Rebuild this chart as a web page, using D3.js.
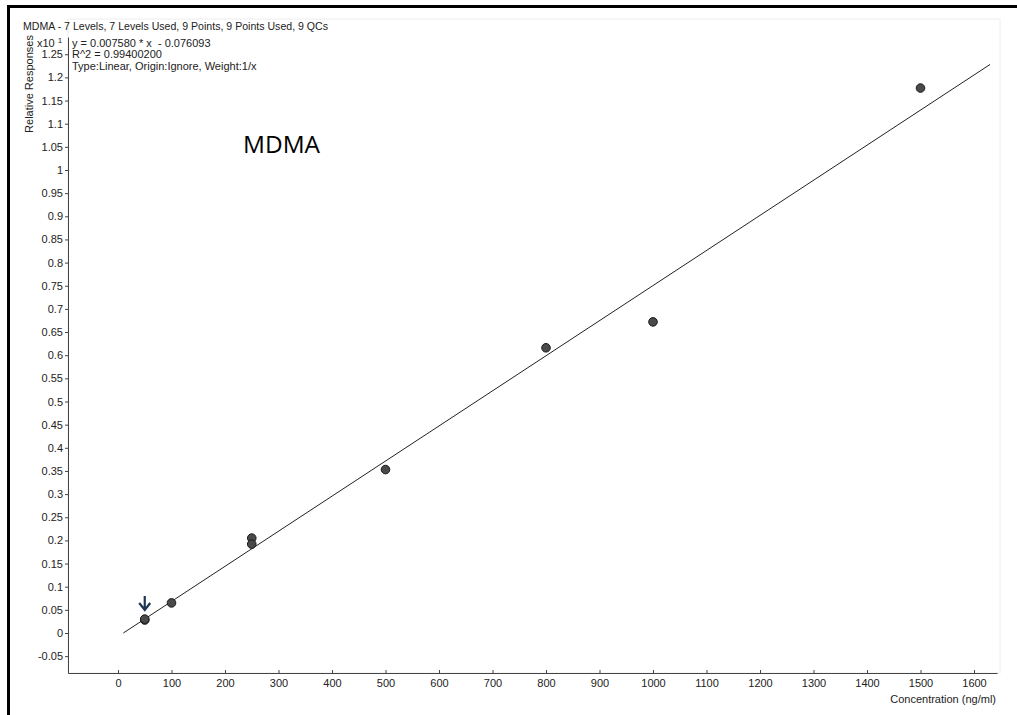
<!DOCTYPE html>
<html>
<head>
<meta charset="utf-8">
<script src="https://cdn.jsdelivr.net/npm/d3@7"></script>
<style>
  body { margin: 0; background: #fff; }
  svg { display: block; font-family: "Liberation Sans", Arial, sans-serif; }
  .axis text { font-size: 11px; fill: #222; }
  .axis path, .axis line { stroke: #444; }
</style>
</head>
<body>
<div id="chart"></div>
<script>
// calibration points (concentration ng/ml, relative response x10)
var concentrations = [50, 50, 100, 250, 250, 500, 800, 1000, 1500];
var responses = [0.028, 0.030, 0.065, 0.205, 0.192, 0.353, 0.616, 0.672, 1.177];

// fitted line y = 0.007580 * x - 0.076093 (shown in units of x10)
var fitSlope = 0.000758, fitIntercept = -0.0076093;
var fitRange = [10, 1630];

var xTicks = [0, 100, 200, 300, 400, 500, 600, 700, 800, 900, 1000, 1100, 1200, 1300, 1400, 1500, 1600];
var yTicks = [-0.05, 0, 0.05, 0.1, 0.15, 0.2, 0.25, 0.3, 0.35, 0.4, 0.45, 0.5, 0.55, 0.6, 0.65, 0.7,
              0.75, 0.8, 0.85, 0.9, 0.95, 1, 1.05, 1.1, 1.15, 1.2, 1.25];

var headerLines = ["y = 0.007580 * x  - 0.076093", "R^2 = 0.99400200", "Type:Linear, Origin:Ignore, Weight:1/x"];
var arrowAt = 50;

var width = 1017, height = 715;

var svg = d3.select("#chart").append("svg")
    .attr("width", width)
    .attr("height", height);

// scales: 0 -> 118px, 1000 -> 653px ; 0 -> 633px, 1 -> 170px
var x = d3.scaleLinear().domain([0, 1000]).range([118, 653]);
var y = d3.scaleLinear().domain([0, 1]).range([633, 170]);
var xMin = x.invert(68), xMax = x.invert(997);
var yMin = y.invert(673), yMax = y.invert(37);

// frame
svg.append("line").attr("x1", 8.5).attr("x2", 8.5).attr("y1", 5).attr("y2", height)
    .attr("stroke", "#000").attr("stroke-width", 3);
svg.append("line").attr("x1", 7).attr("x2", width).attr("y1", 6.5).attr("y2", 6.5)
    .attr("stroke", "#000").attr("stroke-width", 3);

// faint plot panel
svg.append("rect")
    .attr("x", 68).attr("y", 19)
    .attr("width", 1000 - 68).attr("height", 673 - 19)
    .attr("fill", "none").attr("stroke", "#eee");

// y axis
svg.append("g")
    .attr("class", "axis")
    .attr("transform", "translate(68,0)")
    .call(d3.axisLeft(y.copy().domain([yMin, yMax]).range([673, 37]))
        .tickValues(yTicks).tickSize(3).tickSizeOuter(0).tickPadding(2)
        .tickFormat(function (d) { return String(+d.toFixed(2)); }));

// x axis
svg.append("g")
    .attr("class", "axis")
    .attr("transform", "translate(0,673)")
    .call(d3.axisBottom(x.copy().domain([xMin, xMax]).range([68, 997]))
        .tickValues(xTicks).tickSize(-3).tickSizeOuter(0).tickPadding(6)
        .tickFormat(d3.format("d")));

svg.selectAll(".axis .domain").attr("stroke", "#333");

// fit line
svg.append("line")
    .attr("x1", x(fitRange[0])).attr("y1", y(fitSlope * fitRange[0] + fitIntercept))
    .attr("x2", x(fitRange[1])).attr("y2", y(fitSlope * fitRange[1] + fitIntercept))
    .attr("stroke", "#222").attr("stroke-width", 1);

// points
svg.selectAll(".pt")
    .data(concentrations)
    .enter().append("circle")
    .attr("class", "pt")
    .attr("cx", function (d) { return x(d); })
    .attr("cy", function (d, i) { return y(responses[i]); })
    .attr("r", 4.3)
    .attr("fill", "#4a4a4a")
    .attr("stroke", "#1a1a1a")
    .attr("stroke-width", 1);

// arrow marking the lowest calibrator
var ax = x(arrowAt), ay = y(responses[0]);
svg.append("path")
    .attr("d", "M" + ax + "," + (ay - 24) + "V" + (ay - 11) +
               "M" + (ax - 5.5) + "," + (ay - 17) + "L" + ax + "," + (ay - 10) + "L" + (ax + 5.5) + "," + (ay - 17))
    .attr("fill", "none").attr("stroke", "#1f3555").attr("stroke-width", 2.2);

// titles and annotations
svg.append("text")
    .attr("x", 23).attr("y", 30)
    .style("font-size", "11px").attr("fill", "#222")
    .attr("textLength", 305).attr("lengthAdjust", "spacingAndGlyphs")
    .text("MDMA - 7 Levels, 7 Levels Used, 9 Points, 9 Points Used, 9 QCs");

svg.selectAll(".hdr")
    .data(headerLines)
    .enter().append("text")
    .attr("class", "hdr")
    .attr("x", 72).attr("y", function (d, i) { return 46.5 + i * 11.5; })
    .style("font-size", "11px").attr("fill", "#222")
    .style("white-space", "pre")
    .text(function (d) { return d; });

var exp = svg.append("text").attr("x", 37).attr("y", 47)
    .style("font-size", "11px").attr("fill", "#222");
exp.append("tspan").text("x10 ");
exp.append("tspan").attr("dy", -4).style("font-size", "8px").text("1");

svg.append("text")
    .attr("transform", "translate(33,84) rotate(-90)")
    .attr("text-anchor", "middle")
    .style("font-size", "11px").attr("fill", "#222")
    .text("Relative Responses");

svg.append("text")
    .attr("x", 996).attr("y", 703)
    .attr("text-anchor", "end")
    .style("font-size", "11px").attr("fill", "#222")
    .text("Concentration (ng/ml)");

svg.append("text")
    .attr("x", 243).attr("y", 153)
    .style("font-family", "'Open Sans', 'Noto Sans', sans-serif")
    .style("font-size", "23px").attr("fill", "#000")
    .attr("textLength", 77).attr("lengthAdjust", "spacingAndGlyphs")
    .text("MDMA");
</script>
</body>
</html>
